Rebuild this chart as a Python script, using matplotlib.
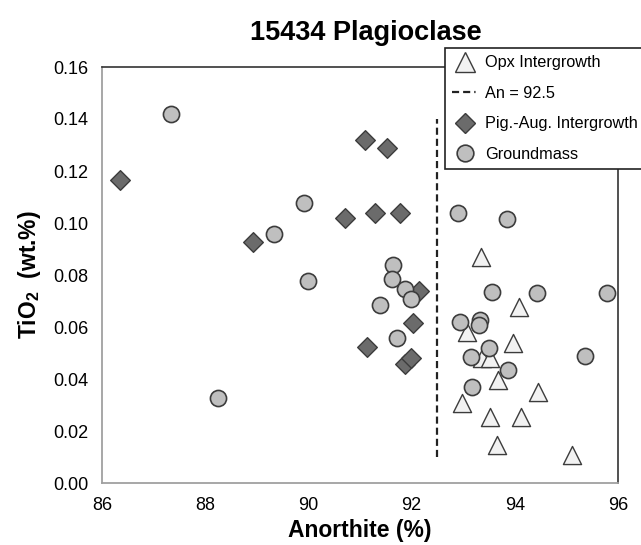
import matplotlib
matplotlib.use("Agg")
import matplotlib.pyplot as plt
from matplotlib.lines import Line2D

plt.rcParams['font.family'] = ['Liberation Sans', 'DejaVu Sans']
plt.rcParams['mathtext.fontset'] = 'custom'
plt.rcParams['mathtext.rm'] = 'Liberation Sans'
plt.rcParams['mathtext.bf'] = 'Liberation Sans:bold'

# Opx intergrowth (triangles)
opx_an = [93.34, 94.08, 93.07, 93.97, 93.36, 93.52, 93.68, 94.45, 92.98, 93.52, 94.12, 93.66, 95.10]
opx_ti = [0.087, 0.0677, 0.058, 0.0538, 0.048, 0.048, 0.0396, 0.035, 0.0308, 0.0254, 0.0254, 0.0146, 0.0108]

# Pigeonite-augite intergrowth (diamonds)
pig_an = [86.35, 88.93, 90.71, 91.10, 91.29, 91.52, 91.78, 92.14, 92.03, 91.13, 91.87, 91.99]
pig_ti = [0.1165, 0.0927, 0.102, 0.132, 0.104, 0.129, 0.104, 0.0738, 0.0615, 0.0523, 0.0458, 0.048]

# Groundmass (circles)
gm_an = [87.34, 89.91, 89.33, 89.99, 88.25, 91.64, 91.62, 91.87, 91.99, 91.39, 91.72,
         92.90, 93.85, 93.56, 94.43, 95.79, 92.94, 93.33, 93.30, 93.50, 93.15, 93.87,
         93.17, 95.36]
gm_ti = [0.142, 0.1077, 0.0958, 0.0777, 0.0327, 0.0838, 0.0785, 0.0746, 0.0708, 0.0685, 0.0558,
         0.104, 0.1015, 0.0735, 0.073, 0.073, 0.062, 0.0627, 0.0608, 0.052, 0.0485, 0.0435,
         0.037, 0.0488]

an_line = 92.5
line_ti = [0.01, 0.14]

xticks = [86, 88, 90, 92, 94, 96]
yticks = [0.00, 0.02, 0.04, 0.06, 0.08, 0.10, 0.12, 0.14, 0.16]

edge = '#3c3c3c'

fig = plt.figure(figsize=(6.41, 5.45), dpi=100)
ax = fig.add_axes([102 / 641, 1 - 483 / 545, 516 / 641, 416 / 545])

ax.plot([an_line, an_line], line_ti, color='#222222', lw=1.6, dashes=(3.2, 1.8), zorder=1)
ax.scatter(pig_an, pig_ti, marker='D', s=100, facecolor='#6b6b6b', edgecolor=edge, lw=1.0, zorder=3)
ax.scatter(opx_an, opx_ti, marker='^', s=170, facecolor='#f2f2f2', edgecolor=edge, lw=1.0, zorder=2)
ax.scatter(gm_an, gm_ti, marker='o', s=135, facecolor='#bfbfbf', edgecolor=edge, lw=1.2, zorder=4)

ax.set_xlim(86, 96)
ax.set_ylim(0, 0.16)
ax.set_xticks(xticks)
ax.set_yticks(yticks)
ax.set_xticklabels([str(t) for t in xticks])
ax.set_yticklabels([f'{t:.2f}' for t in yticks])
ax.tick_params(length=0, labelsize=13, pad=10)

for s in ['left', 'bottom']:
    ax.spines[s].set_color('#a0a0a0')
    ax.spines[s].set_linewidth(1.3)
for s in ['top', 'right']:
    ax.spines[s].set_color('#333333')
    ax.spines[s].set_linewidth(1.2)

ax.set_xlabel('Anorthite (%)', fontsize=16.5, fontweight='bold', labelpad=4)
ax.set_ylabel(r'TiO$_\mathbf{2}$  (wt.%)', fontsize=16.5, fontweight='bold', labelpad=7)
fig.text(366 / 641, 1 - 40 / 545, '15434 Plagioclase', fontsize=19.5, fontweight='bold',
         ha='center', va='baseline')

handles = [
    Line2D([], [], ls='none', marker='^', ms=14, mfc='#f2f2f2', mec=edge, mew=1.0),
    Line2D([], [], color='#222222', lw=1.6, dashes=(3.2, 1.8, 3.2, 1.8, 0.6, 1.8)),
    Line2D([], [], ls='none', marker='D', ms=10, mfc='#6b6b6b', mec=edge, mew=1.0),
    Line2D([], [], ls='none', marker='o', ms=12, mfc='#bfbfbf', mec=edge, mew=1.2),
]
labels = ['Opx Intergrowth', 'An = 92.5', 'Pig.-Aug. Intergrowth', 'Groundmass']
leg = fig.legend(handles, labels, loc='upper left', bbox_to_anchor=(445 / 641, 1 - 48 / 545),
                 fontsize=11.7, frameon=True, fancybox=False, framealpha=1, edgecolor='#222222',
                 handlelength=1.5, handletextpad=0.5, labelspacing=0.95, borderpad=0.45,
                 borderaxespad=0)
leg.get_frame().set_linewidth(1.2)

fig.savefig('out.png', dpi=100)
